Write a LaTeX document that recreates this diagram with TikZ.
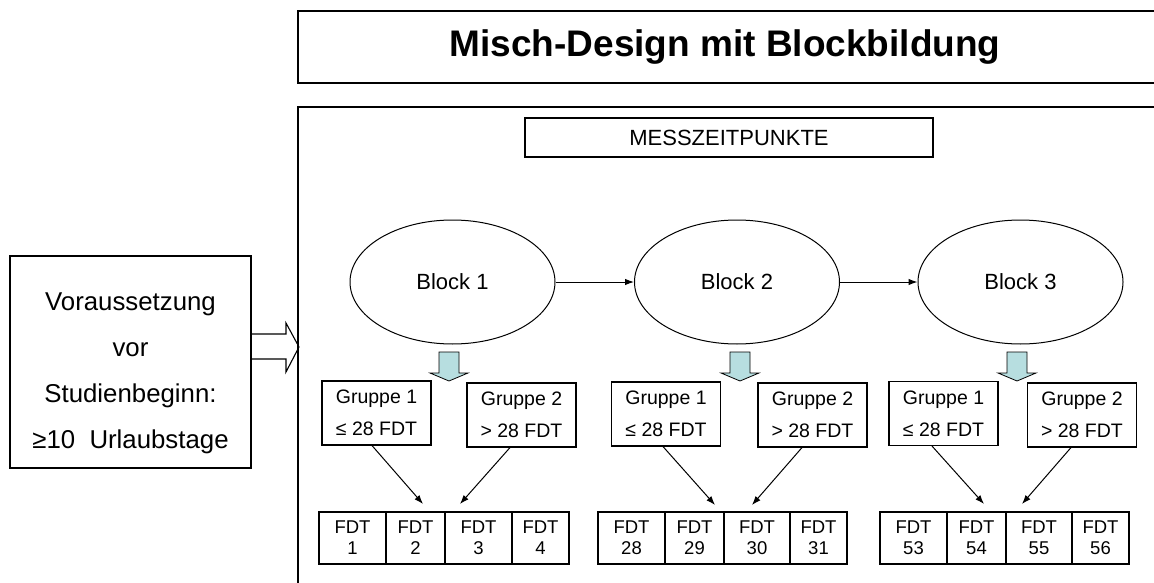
\documentclass[tikz,border=0pt]{standalone}
\usepackage{fontspec}
\setmainfont{Liberation Sans}
\usetikzlibrary{shapes.geometric,arrows.meta,calc}
\definecolor{arrowfill}{RGB}{183,222,224}

\begin{document}
\begin{tikzpicture}[x=1pt,y=-1pt,
  frame/.style={draw=black,line width=1.4pt},
  box/.style={draw=black,line width=1.1pt,rectangle,inner sep=0pt,align=center},
  blk/.style={draw=black,line width=1pt,ellipse,minimum width=205pt,minimum height=124pt,inner sep=0pt,font=\fontsize{22}{26}\selectfont},
  grp/.style={box,minimum width=109pt,minimum height=64pt,font=\fontsize{19.5}{32}\selectfont},
  cell/.style={box,minimum height=52pt,font=\fontsize{18.5}{21}\selectfont},
  thinarrow/.style={line width=1pt,-{Latex[length=9pt,width=6.5pt]}},
  down/.style={draw=black,line width=0.8pt,fill=arrowfill,line join=miter},
  downarrow/.pic={\draw[down] (-10,-14.5) -- (10,-14.5) -- (10,6.5) -- (19,6.5) -- (0,14.5) -- (-19,6.5) -- (-10,6.5) -- cycle;},
]
\useasboundingbox (0,0) rectangle (1154,583);

% title frame and main frame (open to the right and bottom)
\draw[frame] (1170,11) -- (298,11) -- (298,83) -- (1170,83);
\node[font=\bfseries\fontsize{37}{44}\selectfont] (title) at (725,47) {Misch-Design mit Blockbildung};
\draw[frame] (1170,107) -- (298,107) -- (298,600);
\coordinate (frameleft) at (299,347);

% precondition box with hollow arrow
\node[box,line width=1.4pt,minimum width=241pt,minimum height=212pt] (pre) at (130.5,362) {};
\node[align=center,inner sep=0pt,font=\fontsize{25.8}{46}\selectfont] (pretext) at (130.5,373)
  {Voraussetzung\\vor\\Studienbeginn:\\≥10\ \ Urlaubstage};
\draw[line width=1.1pt,line join=miter] ($(pre.east)+(0,-28)$) -- (286,334) -- (286,323) -- (frameleft)
  -- (286,372) -- (286,359) -- ($(pre.east)+(0,-3)$);

% measurement header
\node[box,minimum width=408pt,minimum height=39pt,font=\fontsize{22}{26}\selectfont] (mz) at (729,137.5) {MESSZEITPUNKTE};

% blocks
\node[blk] (b1) at (452.5,282) {Block 1};
\node[blk] (b2) at (737,282) {Block 2};
\node[blk] (b3) at (1020.5,282) {Block 3};
\draw[thinarrow] (b1) -- (b2);
\draw[thinarrow] (b2) -- (b3);

\pic at (449,366.5) {downarrow};
\pic at (740,366.5) {downarrow};
\pic at (1017,366.5) {downarrow};

% groups
\node[grp] (g11) at (376.5,413) {Gruppe 1\\≤ 28 FDT};
\node[grp] (g12) at (521.5,415) {Gruppe 2\\> 28 FDT};
\node[grp] (g21) at (666,414) {Gruppe 1\\≤ 28 FDT};
\node[grp] (g22) at (812.5,415) {Gruppe 2\\> 28 FDT};
\node[grp] (g31) at (943.5,413.5) {Gruppe 1\\≤ 28 FDT};
\node[grp] (g32) at (1082,415) {Gruppe 2\\> 28 FDT};

% days
\node[cell,minimum width=67pt] (c11) at (352.5,538) {FDT\\1};
\node[cell,minimum width=59pt] (c12) at (415.5,538) {FDT\\2};
\node[cell,minimum width=67pt] (c13) at (478.5,538) {FDT\\3};
\node[cell,minimum width=57pt] (c14) at (540.5,538) {FDT\\4};

\node[cell,minimum width=67pt] (c21) at (631.5,538) {FDT\\28};
\node[cell,minimum width=59pt] (c22) at (694.5,538) {FDT\\29};
\node[cell,minimum width=66pt] (c23) at (757,538) {FDT\\30};
\node[cell,minimum width=57pt] (c24) at (818.5,538) {FDT\\31};

\node[cell,minimum width=67pt] (c31) at (913.5,538) {FDT\\53};
\node[cell,minimum width=59pt] (c32) at (976.5,538) {FDT\\54};
\node[cell,minimum width=66pt] (c33) at (1039,538) {FDT\\55};
\node[cell,minimum width=57pt] (c34) at (1100.5,538) {FDT\\56};

% group arrows
\coordinate (t11) at (423,504);
\coordinate (t12) at (460,504);
\coordinate (t21) at (715,505);
\coordinate (t22) at (752,505);
\coordinate (t31) at (984,504);
\coordinate (t32) at (1022,504);
\draw[thinarrow] ([xshift=-4.5pt]g11.south) -- (t11);
\draw[thinarrow] ([xshift=-11.5pt]g12.south) -- (t12);
\draw[thinarrow] ([xshift=-3pt]g21.south) -- (t21);
\draw[thinarrow] ([xshift=-10.5pt]g22.south) -- (t22);
\draw[thinarrow] ([xshift=-11.5pt]g31.south) -- (t31);
\draw[thinarrow] ([xshift=-11pt]g32.south) -- (t32);
\end{tikzpicture}
\end{document}
